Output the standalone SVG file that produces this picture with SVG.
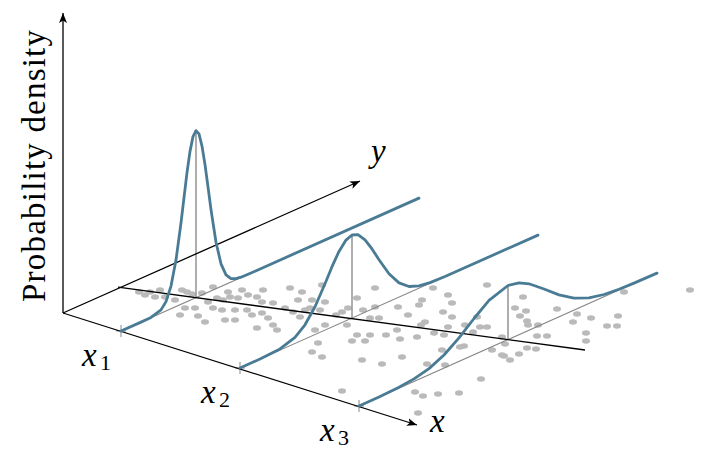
<svg xmlns="http://www.w3.org/2000/svg" width="704" height="460" viewBox="0 0 704 460">
<style>
.dot{fill:#bababa}
.base{stroke:#858585;stroke-width:1.1;fill:none}
.vert{stroke:#9a9a9a;stroke-width:1.6;fill:none}
.tick{stroke:#8a8a8a;stroke-width:1;fill:none}
.ax{stroke:#000;stroke-width:1.3;fill:none}
.curve{stroke:#497b94;stroke-width:2.8;fill:none;stroke-linejoin:round;stroke-linecap:round}
.t{font-family:"Liberation Serif","Times New Roman",serif;fill:#000}
.it{font-style:italic;font-size:33px}
.sub{font-size:22px}
</style>
<defs>
<marker id="arr" viewBox="0 0 10 8" refX="10" refY="4" markerWidth="10" markerHeight="8" markerUnits="userSpaceOnUse" orient="auto">
<path d="M0,0 L10,4 L0,8 L2.5,4 Z" fill="#000"/>
</marker>
</defs>
<g id="scatter" class="dot">
<ellipse cx="139" cy="292" rx="4" ry="2.8"/><ellipse cx="150" cy="292" rx="4" ry="2.8"/><ellipse cx="155" cy="297" rx="4" ry="2.8"/><ellipse cx="165" cy="297" rx="4" ry="2.8"/>
<ellipse cx="175" cy="300" rx="4" ry="2.8"/><ellipse cx="182" cy="290" rx="4" ry="2.8"/><ellipse cx="187" cy="292" rx="4" ry="2.8"/><ellipse cx="192" cy="294" rx="4" ry="2.8"/>
<ellipse cx="202" cy="293" rx="4" ry="2.8"/><ellipse cx="213" cy="287" rx="4" ry="2.8"/><ellipse cx="217" cy="298" rx="4" ry="2.8"/><ellipse cx="223" cy="300" rx="4" ry="2.8"/>
<ellipse cx="228" cy="292" rx="4" ry="2.8"/><ellipse cx="230" cy="297" rx="4" ry="2.8"/><ellipse cx="238" cy="298" rx="4" ry="2.8"/><ellipse cx="242" cy="290" rx="4" ry="2.8"/>
<ellipse cx="257" cy="297" rx="4" ry="2.8"/><ellipse cx="263" cy="290" rx="4" ry="2.8"/><ellipse cx="262" cy="302" rx="4" ry="2.8"/><ellipse cx="273" cy="303" rx="4" ry="2.8"/>
<ellipse cx="290" cy="288" rx="4" ry="2.8"/><ellipse cx="302" cy="292" rx="4" ry="2.8"/><ellipse cx="298" cy="300" rx="4" ry="2.8"/><ellipse cx="180" cy="315" rx="4" ry="2.8"/>
<ellipse cx="185" cy="308" rx="4" ry="2.8"/><ellipse cx="195" cy="308" rx="4" ry="2.8"/><ellipse cx="198" cy="316" rx="4" ry="2.8"/><ellipse cx="205" cy="322" rx="4" ry="2.8"/>
<ellipse cx="213" cy="308" rx="4" ry="2.8"/><ellipse cx="222" cy="310" rx="4" ry="2.8"/><ellipse cx="225" cy="320" rx="4" ry="2.8"/><ellipse cx="235" cy="310" rx="4" ry="2.8"/>
<ellipse cx="235" cy="320" rx="4" ry="2.8"/><ellipse cx="247" cy="310" rx="4" ry="2.8"/><ellipse cx="252" cy="315" rx="4" ry="2.8"/><ellipse cx="257" cy="328" rx="4" ry="2.8"/>
<ellipse cx="262" cy="313" rx="4" ry="2.8"/><ellipse cx="268" cy="318" rx="4" ry="2.8"/><ellipse cx="273" cy="325" rx="4" ry="2.8"/><ellipse cx="277" cy="330" rx="4" ry="2.8"/>
<ellipse cx="285" cy="308" rx="4" ry="2.8"/><ellipse cx="293" cy="312" rx="4" ry="2.8"/><ellipse cx="300" cy="317" rx="4" ry="2.8"/><ellipse cx="305" cy="310" rx="4" ry="2.8"/>
<ellipse cx="160" cy="290" rx="4" ry="2.8"/><ellipse cx="145" cy="295" rx="4" ry="2.8"/><ellipse cx="208" cy="302" rx="4" ry="2.8"/><ellipse cx="248" cy="295" rx="4" ry="2.8"/>
<ellipse cx="322" cy="285" rx="4" ry="2.8"/><ellipse cx="375" cy="288" rx="4" ry="2.8"/><ellipse cx="433" cy="288" rx="4" ry="2.8"/><ellipse cx="487" cy="285" rx="4" ry="2.8"/>
<ellipse cx="312" cy="300" rx="4" ry="2.8"/><ellipse cx="325" cy="302" rx="4" ry="2.8"/><ellipse cx="357" cy="298" rx="4" ry="2.8"/><ellipse cx="422" cy="300" rx="4" ry="2.8"/>
<ellipse cx="419" cy="305" rx="4" ry="2.8"/><ellipse cx="448" cy="295" rx="4" ry="2.8"/><ellipse cx="452" cy="303" rx="4" ry="2.8"/><ellipse cx="398" cy="307" rx="4" ry="2.8"/>
<ellipse cx="375" cy="307" rx="4" ry="2.8"/><ellipse cx="348" cy="308" rx="4" ry="2.8"/><ellipse cx="363" cy="310" rx="4" ry="2.8"/><ellipse cx="342" cy="312" rx="4" ry="2.8"/>
<ellipse cx="336" cy="315" rx="4" ry="2.8"/><ellipse cx="310" cy="308" rx="4" ry="2.8"/><ellipse cx="320" cy="310" rx="4" ry="2.8"/><ellipse cx="370" cy="318" rx="4" ry="2.8"/>
<ellipse cx="379" cy="318" rx="4" ry="2.8"/><ellipse cx="408" cy="315" rx="4" ry="2.8"/><ellipse cx="443" cy="312" rx="4" ry="2.8"/><ellipse cx="452" cy="317" rx="4" ry="2.8"/>
<ellipse cx="425" cy="322" rx="4" ry="2.8"/><ellipse cx="421" cy="325" rx="4" ry="2.8"/><ellipse cx="448" cy="327" rx="4" ry="2.8"/><ellipse cx="465" cy="325" rx="4" ry="2.8"/>
<ellipse cx="477" cy="317" rx="4" ry="2.8"/><ellipse cx="480" cy="327" rx="4" ry="2.8"/><ellipse cx="487" cy="327" rx="4" ry="2.8"/><ellipse cx="325" cy="325" rx="4" ry="2.8"/>
<ellipse cx="315" cy="330" rx="4" ry="2.8"/><ellipse cx="347" cy="325" rx="4" ry="2.8"/><ellipse cx="357" cy="335" rx="4" ry="2.8"/><ellipse cx="370" cy="335" rx="4" ry="2.8"/>
<ellipse cx="386" cy="335" rx="4" ry="2.8"/><ellipse cx="397" cy="330" rx="4" ry="2.8"/><ellipse cx="417" cy="337" rx="4" ry="2.8"/><ellipse cx="434" cy="333" rx="4" ry="2.8"/>
<ellipse cx="444" cy="335" rx="4" ry="2.8"/><ellipse cx="473" cy="332" rx="4" ry="2.8"/><ellipse cx="502" cy="337" rx="4" ry="2.8"/><ellipse cx="523" cy="297" rx="4" ry="2.8"/>
<ellipse cx="515" cy="308" rx="4" ry="2.8"/><ellipse cx="526" cy="311" rx="4" ry="2.8"/><ellipse cx="520" cy="316" rx="4" ry="2.8"/><ellipse cx="527" cy="321" rx="4" ry="2.8"/>
<ellipse cx="528" cy="325" rx="4" ry="2.8"/><ellipse cx="538" cy="325" rx="4" ry="2.8"/><ellipse cx="537" cy="336" rx="4" ry="2.8"/><ellipse cx="547" cy="336" rx="4" ry="2.8"/>
<ellipse cx="557" cy="309" rx="4" ry="2.8"/><ellipse cx="577" cy="314" rx="4" ry="2.8"/><ellipse cx="573" cy="322" rx="4" ry="2.8"/><ellipse cx="591" cy="318" rx="4" ry="2.8"/>
<ellipse cx="586" cy="333" rx="4" ry="2.8"/><ellipse cx="607" cy="326" rx="4" ry="2.8"/><ellipse cx="617" cy="326" rx="4" ry="2.8"/><ellipse cx="618" cy="316" rx="4" ry="2.8"/>
<ellipse cx="624" cy="292" rx="4" ry="2.8"/><ellipse cx="690" cy="290" rx="4" ry="2.8"/><ellipse cx="318" cy="343" rx="4" ry="2.8"/><ellipse cx="312" cy="352" rx="4" ry="2.8"/>
<ellipse cx="322" cy="357" rx="4" ry="2.8"/><ellipse cx="352" cy="341" rx="4" ry="2.8"/><ellipse cx="365" cy="341" rx="4" ry="2.8"/><ellipse cx="400" cy="339" rx="4" ry="2.8"/>
<ellipse cx="362" cy="360" rx="4" ry="2.8"/><ellipse cx="382" cy="364" rx="4" ry="2.8"/><ellipse cx="402" cy="357" rx="4" ry="2.8"/><ellipse cx="427" cy="364" rx="4" ry="2.8"/>
<ellipse cx="445" cy="365" rx="4" ry="2.8"/><ellipse cx="442" cy="350" rx="4" ry="2.8"/><ellipse cx="460" cy="347" rx="4" ry="2.8"/><ellipse cx="464" cy="346" rx="4" ry="2.8"/>
<ellipse cx="492" cy="350" rx="4" ry="2.8"/><ellipse cx="502" cy="355" rx="4" ry="2.8"/><ellipse cx="481" cy="379" rx="4" ry="2.8"/><ellipse cx="342" cy="391" rx="4" ry="2.8"/>
<ellipse cx="415" cy="392" rx="4" ry="2.8"/><ellipse cx="423" cy="396" rx="4" ry="2.8"/><ellipse cx="438" cy="394" rx="4" ry="2.8"/><ellipse cx="459" cy="393" rx="4" ry="2.8"/>
<ellipse cx="418" cy="413" rx="4" ry="2.8"/><ellipse cx="505" cy="344" rx="4" ry="2.8"/><ellipse cx="527" cy="348" rx="4" ry="2.8"/><ellipse cx="536" cy="349" rx="4" ry="2.8"/>
<ellipse cx="519" cy="354" rx="4" ry="2.8"/><ellipse cx="504" cy="356" rx="4" ry="2.8"/><ellipse cx="510" cy="360" rx="4" ry="2.8"/><ellipse cx="586" cy="341" rx="4" ry="2.8"/>
</g>
<g id="baselines">
<path class="base" d="M121,331 L419,198.1"/>
<path class="base" d="M240,368 L538,235.1"/>
<path class="base" d="M359,406 L657,273.1"/>
<path class="vert" d="M196,297.6 V130.6"/>
<path class="vert" d="M352,318 V235"/>
<path class="vert" d="M508,339.5 V285.5"/>
<path class="tick" d="M121,325 V337 M116,331 H126"/>
<path class="tick" d="M240,362 V374 M235,368 H245"/>
<path class="tick" d="M359,400 V412 M354,406 H364"/>
</g>
<g id="connectors">
<path class="ax" d="M63,313 L63,13" marker-end="url(#arr)"/>
<path class="ax" d="M63,313 L417,425" marker-end="url(#arr)"/>
<path class="ax" d="M63,313 L360,181" marker-end="url(#arr)"/>
<path class="ax" d="M118,287.2 L585,350"/>
</g>
<g id="density1">
<path class="curve" d="M121,331 L141,322.1 L151,317.4 L161,309.9 L166,301.6 L171,286.1 L176,260.1 L181,222.9 L184,197.6 L187,172.7 L190,151.4 L193,136.6 L196,130.6 L199,133.9 L202,146.1 L205,164.6 L208,186.9 L211,209.6 L216,242.2 L221,263.8 L226,274.8 L231,278.6 L236,278.7 L241,277.2 L251,273 L419,198.1"/>
</g>
<g id="density2">
<path class="curve" d="M240,368 L260,359 L280,348.9 L295,337.3 L305,324.8 L315,306.8 L325,283.8 L332,266.7 L339,251.4 L346,240.1 L352,235 L358,234.7 L365,239.8 L372,248.9 L379,259.7 L389,273.8 L399,282.9 L409,286.5 L419,285.9 L430,282.6 L445,276.5 L538,235.1"/>
</g>
<g id="density3">
<path class="curve" d="M359,406 L379,396.9 L399,387.3 L414,378.9 L429,368.6 L444,355 L459,337.9 L474,318.5 L489,300.4 L508,285.5 L519,282.9 L529,283.8 L544,289 L559,294.9 L574,298.2 L589,297.9 L604,294.5 L619,289.3 L634,283.1 L657,273.1"/>
</g>
<g id="labels">
<text class="t" font-size="33" text-anchor="middle" textLength="272" lengthAdjust="spacing" transform="translate(45,166) rotate(-90)">Probability density</text>
<text class="t it" x="82" y="366">x</text><text class="t sub" x="100" y="370">1</text>
<text class="t it" x="201" y="403">x</text><text class="t sub" x="219" y="407">2</text>
<text class="t it" x="320" y="441">x</text><text class="t sub" x="338" y="445">3</text>
<text class="t it" x="430" y="432">x</text>
<text class="t it" x="371" y="162">y</text>
</g>
</svg>
